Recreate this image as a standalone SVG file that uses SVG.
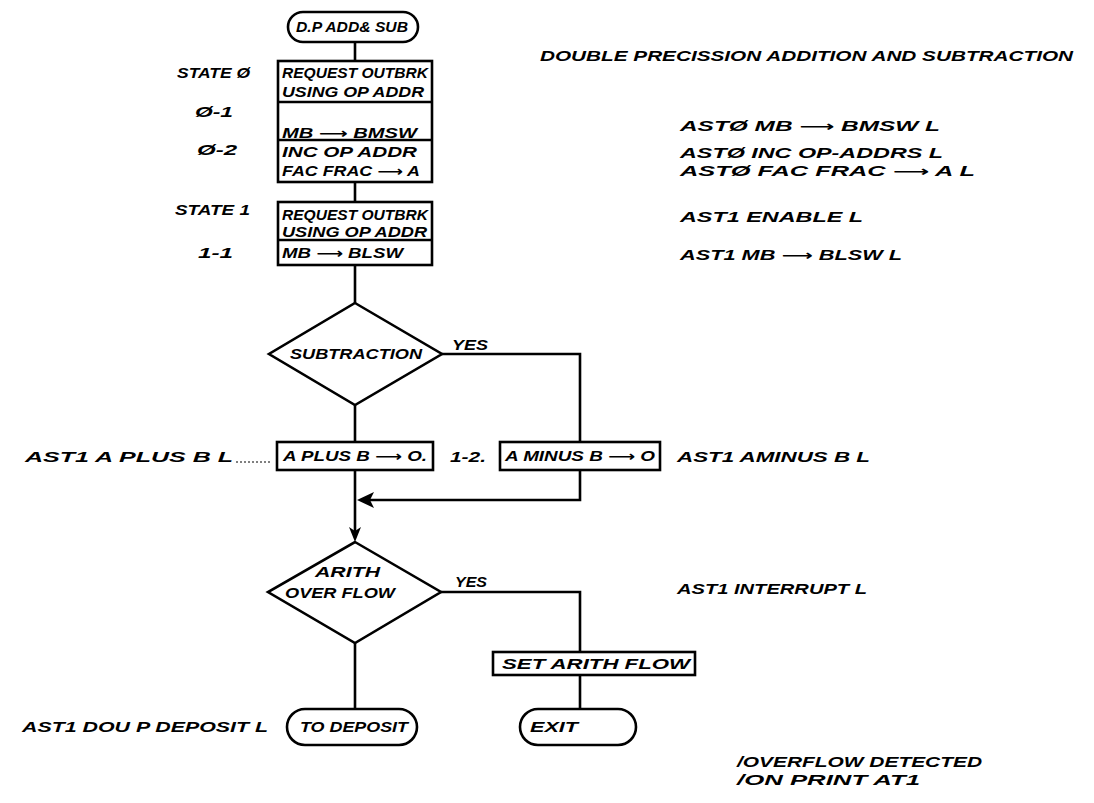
<svg xmlns="http://www.w3.org/2000/svg" width="1094" height="803" viewBox="0 0 1094 803">
<style>
.ln{fill:none;stroke:#000;stroke-width:2.6}
.bx{fill:#fff;stroke:#000;stroke-width:2.6}
.ah{fill:#000;stroke:none}
.t{font-family:"Liberation Sans","DejaVu Sans",sans-serif;font-style:italic;font-weight:bold;font-size:14px;fill:#000}
.dot{fill:none;stroke:#000;stroke-width:1;stroke-dasharray:2 2}
</style>
<rect width="1094" height="803" fill="#fff"/>
<g id="connectors">
<path class="ln" d="M355 42V61M355 182V202M355 265V303M442 354H580V442M355 405V442M355 470V535M580 470V500H370M355 643V709M441 592H580V652M580 675V709"/>
<polygon class="ah" points="357,500 374,492 370,500 374,508"/>
<polygon class="ah" points="355,542 349,527 355,531 361,527"/>
</g>
<g id="start"><rect class="bx" x="288" y="12" width="130" height="30" rx="15"/><text class="t" x="296" y="32" textLength="112" lengthAdjust="spacingAndGlyphs">D.P ADD&amp; SUB</text></g>
<g id="state0">
<rect class="bx" x="278" y="61" width="154" height="121"/>
<path class="ln" d="M278 102H432M278 140H432"/>
<text class="t" x="282" y="78" textLength="146" lengthAdjust="spacingAndGlyphs">REQUEST OUTBRK</text>
<text class="t" x="282" y="97" textLength="142" lengthAdjust="spacingAndGlyphs">USING OP ADDR</text>
<text class="t" x="282" y="138" textLength="135" lengthAdjust="spacingAndGlyphs">MB ⟶ BMSW</text>
<text class="t" x="282" y="157" textLength="135" lengthAdjust="spacingAndGlyphs">INC OP ADDR</text>
<text class="t" x="282" y="176" textLength="138" lengthAdjust="spacingAndGlyphs">FAC FRAC ⟶ A</text>
</g>
<g id="state1">
<rect class="bx" x="278" y="202" width="154" height="63"/>
<path class="ln" d="M278 240H432"/>
<text class="t" x="282" y="220" textLength="146" lengthAdjust="spacingAndGlyphs">REQUEST OUTBRK</text>
<text class="t" x="282" y="237" textLength="145" lengthAdjust="spacingAndGlyphs">USING OP ADDR</text>
<text class="t" x="282" y="258" textLength="121" lengthAdjust="spacingAndGlyphs">MB ⟶ BLSW</text>
</g>
<g id="labels-left">
<text class="t" x="177" y="78" textLength="73" lengthAdjust="spacingAndGlyphs">STATE Ø</text>
<text class="t" x="195" y="117" textLength="38" lengthAdjust="spacingAndGlyphs">Ø-1</text>
<text class="t" x="197" y="155" textLength="40" lengthAdjust="spacingAndGlyphs">Ø-2</text>
<text class="t" x="175" y="215" textLength="75" lengthAdjust="spacingAndGlyphs">STATE 1</text>
<text class="t" x="198" y="258" textLength="35" lengthAdjust="spacingAndGlyphs">1-1</text>
</g>
<g id="subtraction">
<polygon class="bx" points="355,303 442,354 355,405 269,354"/>
<text class="t" x="290" y="359" textLength="132" lengthAdjust="spacingAndGlyphs">SUBTRACTION</text>
<text class="t" x="452" y="350" textLength="36" lengthAdjust="spacingAndGlyphs">YES</text>
</g>
<g id="aplusb">
<rect class="bx" x="277" y="442" width="156" height="28"/>
<text class="t" x="283" y="461" textLength="144" lengthAdjust="spacingAndGlyphs">A PLUS B ⟶ O.</text>
<text class="t" x="450" y="462" textLength="36" lengthAdjust="spacingAndGlyphs">1-2.</text>
<text class="t" x="25" y="462" textLength="208" lengthAdjust="spacingAndGlyphs">AST1 A PLUS B  L</text>
<path class="dot" d="M236 462H270"/>
</g>
<g id="aminusb">
<rect class="bx" x="500" y="442" width="160" height="28"/>
<text class="t" x="505" y="461" textLength="150" lengthAdjust="spacingAndGlyphs">A MINUS B ⟶ O</text>
<text class="t" x="677" y="462" textLength="193" lengthAdjust="spacingAndGlyphs">AST1 AMINUS B  L</text>
</g>
<g id="overflow">
<polygon class="bx" points="355,542 441,592 355,643 268,592"/>
<text class="t" x="315" y="577" textLength="65" lengthAdjust="spacingAndGlyphs">ARITH</text>
<text class="t" x="285" y="598" textLength="110" lengthAdjust="spacingAndGlyphs">OVER FLOW</text>
<text class="t" x="455" y="587" textLength="32" lengthAdjust="spacingAndGlyphs">YES</text>
<text class="t" x="677" y="594" textLength="190" lengthAdjust="spacingAndGlyphs">AST1 INTERRUPT  L</text>
</g>
<g id="setflow">
<rect class="bx" x="493" y="652" width="202" height="23"/>
<text class="t" x="502" y="669" textLength="188" lengthAdjust="spacingAndGlyphs">SET ARITH FLOW</text>
</g>
<g id="todeposit">
<rect class="bx" x="287" y="709" width="130" height="36" rx="18"/>
<text class="t" x="300" y="732" textLength="108" lengthAdjust="spacingAndGlyphs">TO DEPOSIT</text>
<text class="t" x="22" y="732" textLength="246" lengthAdjust="spacingAndGlyphs">AST1 DOU P DEPOSIT  L</text>
</g>
<g id="exit">
<rect class="bx" x="520" y="709" width="116" height="36" rx="18"/>
<text class="t" x="530" y="732" textLength="48" lengthAdjust="spacingAndGlyphs">EXIT</text>
</g>
<g id="notes">
<text class="t" x="540" y="61" textLength="533" lengthAdjust="spacingAndGlyphs">DOUBLE PRECISSION ADDITION AND SUBTRACTION</text>
<text class="t" x="680" y="131" textLength="260" lengthAdjust="spacingAndGlyphs">ASTØ MB ⟶ BMSW L</text>
<text class="t" x="680" y="158" textLength="263" lengthAdjust="spacingAndGlyphs">ASTØ INC OP-ADDRS L</text>
<text class="t" x="680" y="176" textLength="295" lengthAdjust="spacingAndGlyphs">ASTØ FAC FRAC ⟶ A  L</text>
<text class="t" x="680" y="222" textLength="183" lengthAdjust="spacingAndGlyphs">AST1 ENABLE L</text>
<text class="t" x="680" y="260" textLength="222" lengthAdjust="spacingAndGlyphs">AST1 MB ⟶ BLSW L</text>
<text class="t" x="737" y="767" textLength="245" lengthAdjust="spacingAndGlyphs">/OVERFLOW DETECTED</text>
<text class="t" x="737" y="785" textLength="183" lengthAdjust="spacingAndGlyphs">/ON PRINT AT1</text>
</g>
</svg>
